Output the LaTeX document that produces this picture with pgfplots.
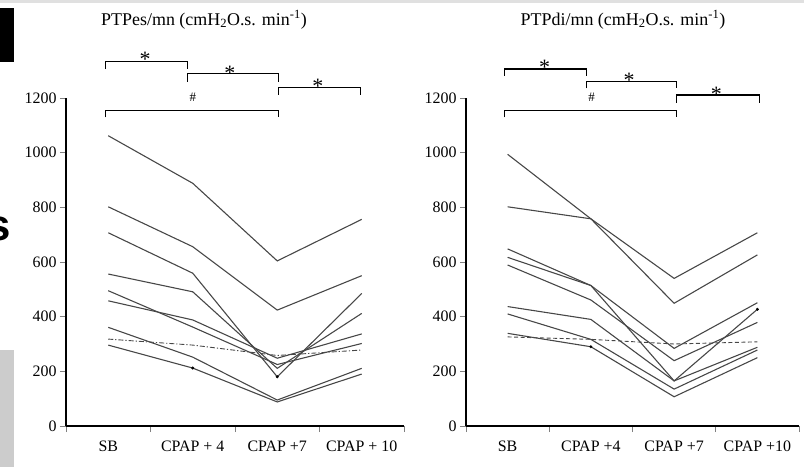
\documentclass[border=0pt]{standalone}
\usepackage{fontspec}
\setmainfont{Liberation Serif}
\setsansfont{Liberation Sans}
\usepackage{pgfplots}
\pgfplotsset{compat=1.18}
\pgfplotsset{
  panel/.style={
    scale only axis, height=328bp,
    xmin=0, xmax=4, ymin=0, ymax=1200,
    axis x line*=bottom, axis y line*=left,
    axis line style={line width=1.1pt, black},
    ytick={0,200,...,1200},
    xtick={0.5,1.5,2.5,3.5},
    minor xtick={0,1,2,3,4},
    major x tick style={draw=none},
    tick align=outside,
    major tick length=6bp, minor tick length=6bp,
    tick style={line width=1pt},
    ticklabel style={font=\fontsize{16}{16}\selectfont},
    xticklabel style={yshift=-5bp},
    /pgf/number format/assume math mode=true,
    /pgf/number format/1000 sep={},
    clip=false,
  },
  subj/.style={draw=black!72, line width=1.1pt, mark=none},
}
\tikzset{
  br/.style={line width=1.1pt, black},
  star/.style={font=\fontsize{22}{22}\selectfont, inner sep=0pt},
  hash/.style={font=\fontsize{13}{13}\selectfont, inner sep=0pt},
}
\begin{document}
\begin{tikzpicture}
\useasboundingbox (0bp,0bp) rectangle (804bp,-467bp);
\fill[black!12] (0bp,0bp) rectangle (804bp,-3bp);
\fill[black] (0bp,-8bp) rectangle (14bp,-62bp);
\fill[black!20] (0bp,-350bp) rectangle (14bp,-467bp);
\node[anchor=base west, inner sep=0pt, font=\sffamily\bfseries\fontsize{44}{44}\selectfont] at (-14bp,-240bp) {s};
\node[anchor=base, inner sep=0pt, font=\fontsize{18}{18}\selectfont] at (204bp,-25bp) {PTPes/mn (cmH\textsubscript{2}O.s. min\textsuperscript{-1})};
\node[anchor=base, inner sep=0pt, font=\fontsize{18}{18}\selectfont] at (623bp,-25bp) {PTPdi/mn (cmH\textsubscript{2}O.s. min\textsuperscript{-1})};

\begin{axis}[panel, at={(66bp,-426bp)}, anchor=south west, width=338bp,
  xticklabels={SB, CPAP + 4, CPAP +7, CPAP + 10}]
\addplot[subj] coordinates {(0.5,1062)(1.5,888)(2.5,604)(3.5,756)};
\addplot[subj] coordinates {(0.5,802)(1.5,656)(2.5,424)(3.5,550)};
\addplot[subj] coordinates {(0.5,707)(1.5,559)(2.5,180)(3.5,485)};
\addplot[subj] coordinates {(0.5,556)(1.5,491)(2.5,211)(3.5,412)};
\addplot[subj] coordinates {(0.5,458)(1.5,388)(2.5,248)(3.5,337)};
\addplot[subj] coordinates {(0.5,495)(1.5,362)(2.5,225)(3.5,302)};
\addplot[subj] coordinates {(0.5,361)(1.5,252)(2.5,95)(3.5,211)};
\addplot[subj] coordinates {(0.5,296)(1.5,212)(2.5,88)(3.5,190)};
\addplot[subj, line width=0.9pt, dash pattern=on 5bp off 2bp on 1.2bp off 2bp] coordinates {(0.5,318)(1.5,296)(2.5,258)(3.5,278)};
\addplot[only marks, mark=*, mark size=1.3bp, black] coordinates {(1.5,212)(2.5,180)};
% brackets
\draw[br] (axis cs:0.47,1306) |- (axis cs:1.44,1333) -- (axis cs:1.44,1306);
\draw[br] (axis cs:1.44,1260) |- (axis cs:2.51,1288) -- (axis cs:2.51,1260);
\draw[br] (axis cs:2.51,1211) |- (axis cs:3.48,1237) -- (axis cs:3.48,1211);
\draw[br] (axis cs:0.47,1129) |- (axis cs:2.51,1155) -- (axis cs:2.51,1129);
\node[star] at (axis cs:0.935,1340) {*};
\node[star] at (axis cs:1.94,1291) {*};
\node[star] at (axis cs:2.98,1242) {*};
\node[hash] at (axis cs:1.50,1204) {\#};
\end{axis}

\begin{axis}[panel, at={(466bp,-426bp)}, anchor=south west, width=333bp,
  xticklabels={SB, CPAP +4, CPAP +7, CPAP +10}]
\addplot[subj] coordinates {(0.5,994)(1.5,758)(2.5,449)(3.5,626)};
\addplot[subj] coordinates {(0.5,802)(1.5,758)(2.5,540)(3.5,707)};
\addplot[subj] coordinates {(0.5,648)(1.5,514)(2.5,165)(3.5,427)};
\addplot[subj] coordinates {(0.5,617)(1.5,514)(2.5,284)(3.5,451)};
\addplot[subj] coordinates {(0.5,589)(1.5,461)(2.5,239)(3.5,379)};
\addplot[subj] coordinates {(0.5,437)(1.5,390)(2.5,165)(3.5,288)};
\addplot[subj] coordinates {(0.5,410)(1.5,317)(2.5,135)(3.5,278)};
\addplot[subj] coordinates {(0.5,339)(1.5,290)(2.5,107)(3.5,250)};
\addplot[subj, line width=0.9pt, dash pattern=on 4bp off 2.5bp] coordinates {(0.5,326)(1.5,317)(2.5,300)(3.5,308)};
\addplot[only marks, mark=*, mark size=1.3bp, black] coordinates {(1.5,290)(3.5,427)};
% brackets
\draw[br] (axis cs:0.46,1281) |- (axis cs:1.45,1306) -- (axis cs:1.45,1281);
\draw[br] (axis cs:1.45,1235) |- (axis cs:2.53,1262) -- (axis cs:2.53,1235);
\draw[br] (axis cs:2.53,1183) |- (axis cs:3.52,1211) -- (axis cs:3.52,1183);
\draw[br] (axis cs:0.46,1129) |- (axis cs:2.53,1154) -- (axis cs:2.53,1129);
\node[star] at (axis cs:0.943,1314) {*};
\node[star] at (axis cs:1.96,1265) {*};
\node[star] at (axis cs:3.007,1214) {*};
\node[hash] at (axis cs:1.508,1204) {\#};
\end{axis}
\end{tikzpicture}
\end{document}
